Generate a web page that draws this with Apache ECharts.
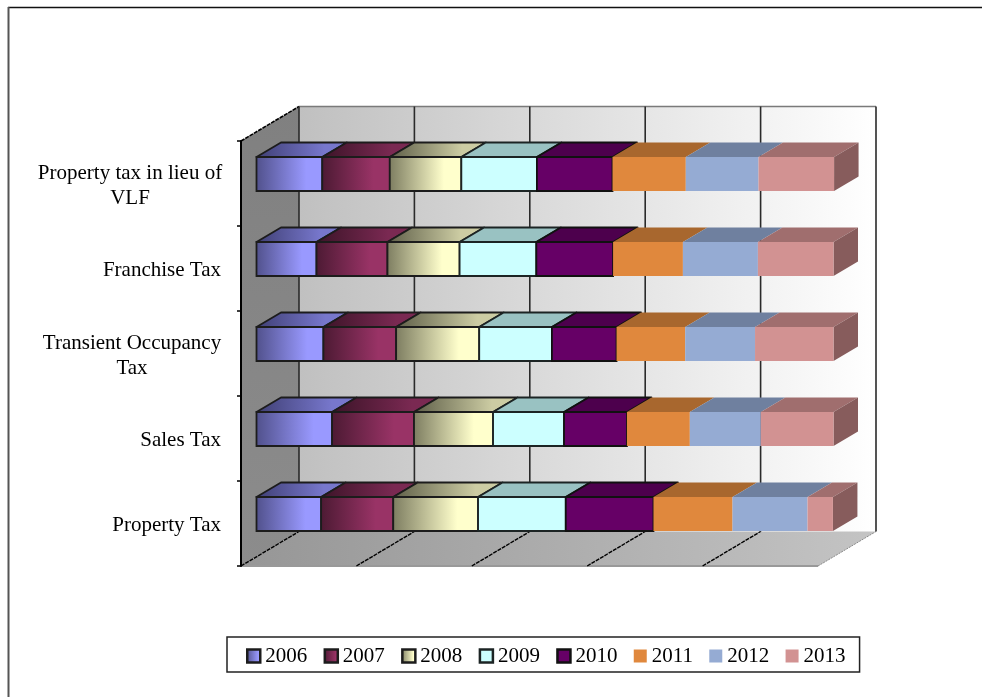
<!DOCTYPE html>
<html>
<head>
<meta charset="utf-8">
<style>html,body{margin:0;padding:0;background:#fff}#c{width:982px;height:697px}</style>
<script src="https://cdn.jsdelivr.net/npm/echarts@6/dist/echarts.min.js"></script>
</head>
<body>
<div id="c"></div>
<script>
const categories = ['Property Tax', 'Sales Tax', 'Transient Occupancy\nTax', 'Franchise Tax', 'Property tax in lieu of\nVLF'];
const years = ['2006', '2007', '2008', '2009', '2010', '2011', '2012', '2013'];
const v2006 = [11.2, 13.1, 11.6, 10.4, 11.4];
const v2007 = [12.5, 14.2, 12.6, 12.3, 11.7];
const v2008 = [14.7, 13.7, 14.4, 12.5, 12.4];
const v2009 = [15.2, 12.3, 12.6, 13.3, 13.1];
const v2010 = [15.2, 10.9, 11.2, 13.3, 13.1];
const v2011 = [13.7, 10.9, 11.9, 12.1, 12.7];
const v2012 = [13.0, 12.3, 12.1, 13.0, 12.6];
const v2013 = [4.4, 12.6, 13.6, 13.1, 13.1];
const seriesValues = [v2006, v2007, v2008, v2009, v2010, v2011, v2012, v2013];
const axisTicks = [0, 20, 40, 60, 80, 100];

const frontDark = ['#50508a', '#4c1a33', '#7c7c60', '#ccffff', '#660066', '#e0883d', '#95abd3', '#d29292'];
const frontLight = ['#9999ff', '#993366', '#ffffcc', '#ccffff', '#660066', '#e0883d', '#95abd3', '#d29292'];
const topDark = ['#3f3f74', '#3c1428', '#5e5e48', '#99c2c2', '#4d004d', '#a8672e', '#6f809f', '#a06e6e'];
const topLight = ['#7777cc', '#7a2952', '#cccca3', '#99c2c2', '#4d004d', '#a8672e', '#6f809f', '#a06e6e'];
const strokes = ['#1c1c1c', '#1c1c1c', '#1c1c1c', '#1c2424', '#111111', null, null, null];

const serif = '"Liberation Serif","Times New Roman",serif';
const grid = { left: 241, top: 141, width: 577, height: 425 };
const wallDepth = [58, -34.5];
const barInset = [15.5, -9.5];
const barDepth = [24.5, -14.5];
const barH = 34;

function hGrad(a, b, stop) {
  return { type: 'linear', x: 0, y: 0, x2: 1, y2: 0, colorStops: [
    { offset: 0, color: a }, { offset: stop, color: b }, { offset: 1, color: b } ] };
}

function poly(points, style, z2) {
  return { type: 'polygon', shape: { points }, style, z2: z2 || 0 };
}

function renderFrame(params, api) {
  const tick = api.value(0);
  const tx = api.coord([tick, 0])[0];
  const l = api.coord([0, 0])[0], r = api.coord([100, 0])[0];
  const t = grid.top, b = grid.top + grid.height;
  const [dx, dy] = wallDepth;
  const children = [];
  if (params.dataIndex === 0) {
    children.push(poly([[l + dx, t + dy], [r + dx, t + dy], [r + dx, b + dy], [l + dx, b + dy]],
      { fill: { type: 'linear', x: 0, y: 0, x2: 1, y2: 0, colorStops: [{ offset: 0, color: '#c0c0c0' }, { offset: 1, color: '#ffffff' }] }, stroke: null }));
    children.push(poly([[l, t], [l + dx, t + dy], [l + dx, b + dy], [l, b]],
      { fill: { type: 'linear', x: 0, y: 0, x2: 0, y2: 1, colorStops: [{ offset: 0, color: '#808080' }, { offset: 1, color: '#8c8c8c' }] }, stroke: null }));
    children.push(poly([[l, b], [l + dx, b + dy], [r + dx, b + dy], [r, b]],
      { fill: { type: 'linear', x: 0, y: 0, x2: 1, y2: 0, colorStops: [{ offset: 0, color: '#969696' }, { offset: 1, color: '#c4c4c4' }] }, stroke: null }));
    children.push({ type: 'line', shape: { x1: l + dx, y1: t + dy, x2: r + dx, y2: t + dy }, style: { stroke: '#7a7a7a', lineWidth: 1.5 } });
    children.push({ type: 'line', shape: { x1: l, y1: b, x2: r, y2: b }, style: { stroke: '#999999', lineWidth: 2 } });
    children.push({ type: 'line', shape: { x1: l, y1: t, x2: l + dx, y2: t + dy }, style: { stroke: '#000000', lineWidth: 1.6, lineDash: [4, 1] } });
    children.push({ type: 'line', shape: { x1: r, y1: b, x2: r + dx, y2: b + dy }, style: { stroke: '#8a8a8a', lineWidth: 1, lineDash: [2, 1] } });
  }
  children.push({ type: 'line', shape: { x1: tx + dx, y1: t + dy, x2: tx + dx, y2: b + dy }, style: { stroke: '#2a2a2a', lineWidth: 1.6 } });
  if (tick < 100) {
    children.push({ type: 'line', shape: { x1: tx, y1: b, x2: tx + dx, y2: b + dy }, style: { stroke: '#000000', lineWidth: 1.4, lineDash: [4, 1] } });
  }
  return { type: 'group', children };
}

function makeBarRenderer(k) {
  return function (params, api) {
    const start = api.coord([api.value(0), api.value(2)]);
    const end = api.coord([api.value(1), api.value(2)]);
    const x0 = start[0] + barInset[0], x1 = end[0] + barInset[0];
    const yb = start[1] + barInset[1] + barH / 2, yt = yb - barH;
    const [dx, dy] = barDepth;
    const stroke = strokes[k];
    const lw = stroke ? 1.8 : 0;
    const children = [];
    children.push(poly([[x0, yt], [x0 + dx, yt + dy], [x1 + dx, yt + dy], [x1, yt]],
      { fill: hGrad(topDark[k], topLight[k], 0.75), stroke, lineWidth: lw, lineJoin: 'round' }));
    if (k === years.length - 1) {
      children.push(poly([[x1, yt], [x1 + dx, yt + dy], [x1 + dx, yb + dy], [x1, yb]],
        { fill: '#875c5c', stroke: null }));
    }
    children.push({ type: 'rect', shape: { x: x0, y: yt, width: x1 - x0, height: yb - yt },
      style: { fill: hGrad(frontDark[k], frontLight[k], 0.75), stroke, lineWidth: lw } });
    return { type: 'group', children };
  };
}

const barSeries = years.map((y, k) => ({
  type: 'custom',
  name: y,
  coordinateSystem: 'cartesian2d',
  z: 3 + k,
  itemStyle: { color: hGrad(frontDark[k], frontLight[k], 0.75) },
  encode: { x: [0, 1], y: 2 },
  data: categories.map((c, i) => {
    let s = 0;
    for (let j = 0; j < k; j++) s += seriesValues[j][i];
    return [s, s + seriesValues[k][i], i];
  }),
  renderItem: makeBarRenderer(k)
}));

const labelBase = { fontFamily: serif, fontSize: 21, lineHeight: 25, color: '#000' };

const option = {
  animation: false,
  backgroundColor: '#fff',
  graphic: [
    { type: 'line', shape: { x1: 8, y1: 7.5, x2: 982, y2: 7.5 }, style: { stroke: '#111', lineWidth: 1.5 }, silent: true },
    { type: 'line', shape: { x1: 8.5, y1: 7, x2: 8.5, y2: 697 }, style: { stroke: '#555', lineWidth: 2 }, silent: true }
  ],
  grid: Object.assign({ containLabel: false }, grid),
  xAxis: { type: 'value', min: 0, max: 100, interval: 20, show: false },
  yAxis: {
    type: 'category',
    data: categories,
    z: 20,
    axisLine: { show: true, lineStyle: { color: '#000', width: 2 } },
    axisTick: { show: true, length: 4, lineStyle: { color: '#000', width: 1.5 } },
    splitLine: { show: false },
    axisLabel: Object.assign({
      margin: 20,
      interval: 0,
      padding: [4, 0, 0, 0],
      formatter: v => {
        if (v.indexOf('\n') < 0) return v;
        const key = v.indexOf('VLF') >= 0 ? 'lieu' : 'occ';
        return v.split('\n').map(l => '{' + key + '|' + l + '}').join('\n');
      },
      rich: {
        lieu: Object.assign({ width: 182, align: 'center' }, labelBase),
        occ: Object.assign({ width: 178, align: 'center' }, labelBase)
      }
    }, labelBase)
  },
  legend: {
    left: 227,
    top: 637,
    orient: 'horizontal',
    data: years.map((y, k) => ({
      name: y,
      icon: 'rect',
      itemStyle: {
        color: hGrad(frontDark[k], frontLight[k], 0.8),
        borderColor: strokes[k] || 'transparent',
        borderWidth: strokes[k] ? 2.5 : 0
      }
    })),
    selectedMode: false,
    itemWidth: 13,
    itemHeight: 13,
    itemGap: 16.3,
    padding: [7, 14, 4, 19],
    backgroundColor: '#fff',
    borderColor: '#222',
    borderWidth: 1.5,
    borderRadius: 0,
    textStyle: { fontFamily: serif, fontSize: 21, color: '#000', lineHeight: 24 }
  },
  tooltip: { show: false },
  series: [{
    type: 'custom',
    name: 'walls',
    coordinateSystem: 'cartesian2d',
    z: 1,
    silent: true,
    encode: { x: 0 },
    data: axisTicks.map(t => [t]),
    renderItem: renderFrame
  }].concat(barSeries)
};

echarts.init(document.getElementById('c'), null, { renderer: 'canvas' }).setOption(option);
</script>
</body>
</html>
